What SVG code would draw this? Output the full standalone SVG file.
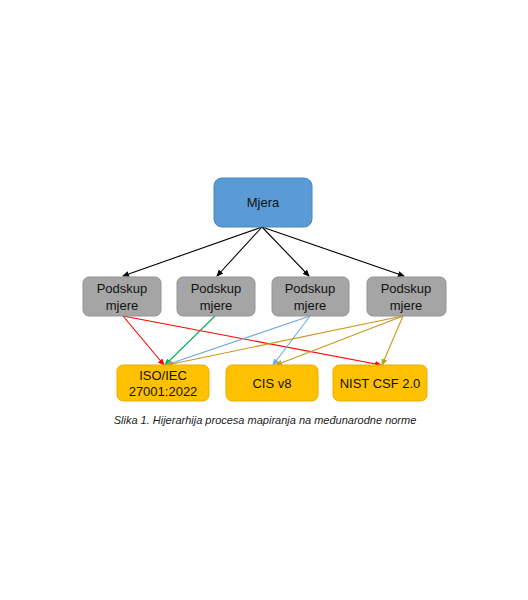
<svg xmlns="http://www.w3.org/2000/svg" width="528" height="600" viewBox="0 0 528 600">
<style>
.lbl{font-family:"Liberation Sans","Open Sans",Arial,sans-serif;font-size:13px;fill:#111;text-anchor:middle}
.top{fill:#5B9BD5;stroke:#4a86bd;stroke-width:1}
.mid{fill:#A5A5A5;stroke:#939393;stroke-width:1}
.bot{fill:#FFC000;stroke:#e8ae00;stroke-width:1}
.c{fill:none;stroke-width:1.1}
.cap{font-family:"Liberation Sans",Arial,sans-serif;font-size:11px;font-style:italic;fill:#222;text-anchor:middle}
</style>
<defs>
<marker id="ak" markerWidth="7" markerHeight="6" refX="6" refY="3" orient="auto" markerUnits="userSpaceOnUse"><path d="M0,0 L7,3 L0,6 z" fill="#000"/></marker>
<marker id="ar" markerWidth="7" markerHeight="6" refX="6" refY="3" orient="auto" markerUnits="userSpaceOnUse"><path d="M0,0 L7,3 L0,6 z" fill="#FF0000"/></marker>
<marker id="ag" markerWidth="7" markerHeight="6" refX="6" refY="3" orient="auto" markerUnits="userSpaceOnUse"><path d="M0,0 L7,3 L0,6 z" fill="#00B050"/></marker>
<marker id="ab" markerWidth="7" markerHeight="6" refX="6" refY="3" orient="auto" markerUnits="userSpaceOnUse"><path d="M0,0 L7,3 L0,6 z" fill="#6FA8DC"/></marker>
<marker id="ay" markerWidth="7" markerHeight="6" refX="6" refY="3" orient="auto" markerUnits="userSpaceOnUse"><path d="M0,0 L7,3 L0,6 z" fill="#C49A1C"/></marker>
</defs>
<rect width="528" height="600" fill="#fff"/>
<g id="connectors">
<line class="c" stroke="#000" x1="262" y1="227" x2="123" y2="276" marker-end="url(#ak)"/>
<line class="c" stroke="#000" x1="262" y1="227" x2="217" y2="276" marker-end="url(#ak)"/>
<line class="c" stroke="#000" x1="262" y1="227" x2="309" y2="276" marker-end="url(#ak)"/>
<line class="c" stroke="#000" x1="262" y1="227" x2="404" y2="276" marker-end="url(#ak)"/>
<line class="c" stroke="#FF0000" x1="123" y1="316" x2="164" y2="365" marker-end="url(#ar)"/>
<line class="c" stroke="#FF0000" x1="123" y1="316" x2="381" y2="365" marker-end="url(#ar)"/>
<line class="c" stroke="#00B050" x1="215" y1="316" x2="165" y2="365" marker-end="url(#ag)"/>
<line class="c" stroke="#6FA8DC" x1="310" y1="316" x2="166" y2="365" marker-end="url(#ab)"/>
<line class="c" stroke="#6FA8DC" x1="310" y1="316" x2="273" y2="365" marker-end="url(#ab)"/>
<line class="c" stroke="#C49A1C" x1="403" y1="316" x2="167" y2="365" marker-end="url(#ay)"/>
<line class="c" stroke="#C49A1C" x1="403" y1="316" x2="276" y2="365" marker-end="url(#ay)"/>
<line class="c" stroke="#C49A1C" x1="403" y1="316" x2="382" y2="365" marker-end="url(#ay)"/>
</g>
<g id="mjera"><rect class="top" x="214" y="178" width="98" height="49" rx="8"/><text class="lbl" x="263" y="207">Mjera</text></g>
<g id="podskup1"><rect class="mid" x="83" y="277" width="78" height="39" rx="6"/><text class="lbl" x="122" y="293">Podskup</text><text class="lbl" x="122" y="310">mjere</text></g>
<g id="podskup2"><rect class="mid" x="177" y="277" width="78" height="39" rx="6"/><text class="lbl" x="216" y="293">Podskup</text><text class="lbl" x="216" y="310">mjere</text></g>
<g id="podskup3"><rect class="mid" x="272" y="277" width="77" height="39" rx="6"/><text class="lbl" x="310" y="293">Podskup</text><text class="lbl" x="310" y="310">mjere</text></g>
<g id="podskup4"><rect class="mid" x="367" y="277" width="79" height="39" rx="6"/><text class="lbl" x="406" y="293">Podskup</text><text class="lbl" x="406" y="310">mjere</text></g>
<g id="iso"><rect class="bot" x="117" y="365" width="92" height="36" rx="6"/><text class="lbl" x="163" y="380">ISO/IEC</text><text class="lbl" x="163" y="396">27001:2022</text></g>
<g id="cis"><rect class="bot" x="226" y="365" width="92" height="36" rx="6"/><text class="lbl" x="272" y="388">CIS v8</text></g>
<g id="nist"><rect class="bot" x="333" y="365" width="94" height="36" rx="6"/><text class="lbl" x="380" y="388">NIST CSF 2.0</text></g>
<text class="cap" x="265" y="424">Slika 1. Hijerarhija procesa mapiranja na međunarodne norme</text>
</svg>
